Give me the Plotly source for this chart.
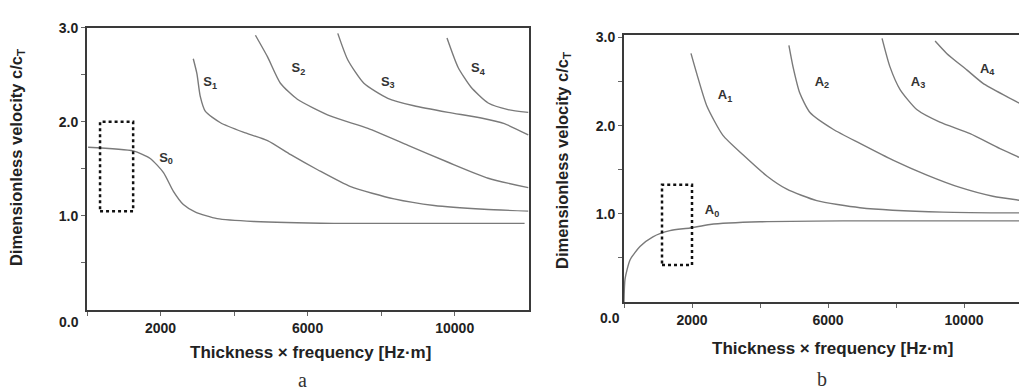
import plotly.graph_objects as go

# ---- Data ----
# Panel a: symmetric modes
s0_x = [30, 1260, 1720, 2080, 2350, 2620, 2950, 3540, 4540, 6720, 11900]
s0_y = [1.73, 1.69, 1.61, 1.46, 1.26, 1.12, 1.04, 0.97, 0.94, 0.92, 0.92]
s1_x = [2890, 2990, 3080, 3220, 3630, 4250, 4910, 5540, 6270, 7170, 8350, 9440, 10800, 12000]
s1_y = [2.67, 2.51, 2.27, 2.11, 1.99, 1.89, 1.80, 1.65, 1.49, 1.31, 1.18, 1.11, 1.07, 1.05]
s2_x = [4580, 4910, 5260, 5720, 6630, 7640, 8730, 9820, 10910, 12000]
s2_y = [2.92, 2.69, 2.41, 2.24, 2.06, 1.93, 1.75, 1.57, 1.40, 1.30]
s3_x = [6820, 7090, 7530, 8180, 8890, 9820, 10720, 11350, 12000]
s3_y = [2.94, 2.66, 2.41, 2.25, 2.17, 2.10, 2.04, 1.98, 1.86]
s4_x = [9790, 10090, 10440, 10910, 11450, 12000]
s4_y = [2.89, 2.58, 2.37, 2.20, 2.13, 2.10]

# Panel b: antisymmetric modes
a0_x = [0, 30, 180, 470, 850, 1350, 1940, 2530, 4000, 6440, 12100]
a0_y = [0.0, 0.26, 0.48, 0.63, 0.74, 0.81, 0.84, 0.88, 0.91, 0.92, 0.92]
a1_x = [1970, 2140, 2440, 2910, 3500, 4200, 4790, 5670, 6940, 9380, 12100]
a1_y = [2.82, 2.59, 2.22, 1.89, 1.67, 1.43, 1.28, 1.15, 1.07, 1.02, 1.01]
a2_x = [4850, 4970, 5170, 5470, 6150, 6940, 7910, 8910, 9880, 10850, 12100]
a2_y = [2.91, 2.67, 2.37, 2.15, 1.96, 1.80, 1.61, 1.44, 1.30, 1.20, 1.13]
a3_x = [7590, 7820, 8120, 8620, 9290, 10180, 11060, 12100]
a3_y = [2.99, 2.67, 2.41, 2.18, 2.04, 1.91, 1.74, 1.56]
a4_x = [9150, 9490, 10090, 10560, 11260, 12100]
a4_y = [2.96, 2.82, 2.63, 2.48, 2.33, 2.16]

# Mode labels
s_labels = ["S<sub>0</sub>", "S<sub>1</sub>", "S<sub>2</sub>", "S<sub>3</sub>", "S<sub>4</sub>"]
s_lab_x = [2150, 3350, 5750, 8180, 10630]
s_lab_y = [1.61, 2.41, 2.56, 2.42, 2.56]
a_labels = ["A<sub>0</sub>", "A<sub>1</sub>", "A<sub>2</sub>", "A<sub>3</sub>", "A<sub>4</sub>"]
a_lab_x = [2590, 2970, 5820, 8650, 10680]
a_lab_y = [1.03, 2.34, 2.49, 2.49, 2.64]

# Dotted boxes [x0, x1, y0, y1]
box_a = [355, 1255, 1.05, 2.0]
box_b = [1118, 2000, 0.42, 1.33]

x_tickvals = [0, 2000, 4000, 6000, 8000, 10000]
x_ticktext = ["", "<b>2000</b>", "", "<b>6000</b>", "", "<b>10000</b>"]
y_tickvals = [0.5, 1.0, 1.5, 2.0, 2.5, 3.0]
y_ticktext = ["", "<b>1.0</b>", "", "<b>2.0</b>", "", "<b>3.0</b>"]

W, H = 1027, 392
OFF = 8  # page body margin offset


def fx(px):
    return (px - OFF) / W


def fy(py):
    return 1 - (py - OFF) / H


LINE = dict(color="#7a7a7a", width=1.4, shape="spline", smoothing=0.6)
FONT = "Liberation Sans, Arial, sans-serif"
SERIF = "Liberation Serif, Times New Roman, serif"

fig = go.Figure()
for xs, ys in [(s0_x, s0_y), (s1_x, s1_y), (s2_x, s2_y), (s3_x, s3_y), (s4_x, s4_y)]:
    fig.add_trace(go.Scatter(x=xs, y=ys, mode="lines", line=LINE, xaxis="x", yaxis="y",
                             showlegend=False, hoverinfo="skip", cliponaxis=True))
for xs, ys in [(a0_x, a0_y), (a1_x, a1_y), (a2_x, a2_y), (a3_x, a3_y), (a4_x, a4_y)]:
    fig.add_trace(go.Scatter(x=xs, y=ys, mode="lines", line=LINE, xaxis="x2", yaxis="y2",
                             showlegend=False, hoverinfo="skip", cliponaxis=True))

fig.add_trace(go.Scatter(x=s_lab_x, y=s_lab_y, mode="text", text=["<b>%s</b>" % t for t in s_labels],
                         textfont=dict(family=FONT, size=13, color="#333"), xaxis="x", yaxis="y",
                         showlegend=False, hoverinfo="skip"))
fig.add_trace(go.Scatter(x=a_lab_x, y=a_lab_y, mode="text", text=["<b>%s</b>" % t for t in a_labels],
                         textfont=dict(family=FONT, size=13, color="#333"), xaxis="x2", yaxis="y2",
                         showlegend=False, hoverinfo="skip"))

for (bx, xr, yr) in [(box_a, "x", "y"), (box_b, "x2", "y2")]:
    fig.add_shape(type="rect", xref=xr, yref=yr, x0=bx[0], x1=bx[1], y0=bx[2], y1=bx[3],
                  line=dict(color="#111", width=2.5, dash="dot"))

axis_common = dict(showgrid=False, zeroline=False, showline=True, linecolor="#3a3a3a", linewidth=2,
                   ticks="outside", ticklen=4, tickcolor="#666", tickwidth=1,
                   tickfont=dict(family=FONT, size=14, color="#222"))

fig.update_layout(
    width=W, height=H, margin=dict(l=0, r=0, t=0, b=0),
    paper_bgcolor="white", plot_bgcolor="white",
    xaxis=dict(domain=[fx(87), fx(529)], range=[0, 12020], tickvals=x_tickvals, ticktext=x_ticktext,
               anchor="y", mirror=True, **axis_common),
    yaxis=dict(domain=[fy(308), fy(20)], range=[0, 3.0], tickvals=y_tickvals, ticktext=y_ticktext,
               anchor="x", mirror=True, **axis_common),
    xaxis2=dict(domain=[fx(624), 1.0], range=[0, (W + OFF - 624) / 0.034], tickvals=x_tickvals,
                ticktext=x_ticktext, anchor="y2", mirror=True, **axis_common),
    yaxis2=dict(domain=[fy(300), fy(27)], range=[0, 3.033], tickvals=y_tickvals, ticktext=y_ticktext,
                anchor="x2", mirror=False, **axis_common),
)


def ann(text, px, py, size, family=FONT, angle=0, color="#222"):
    fig.add_annotation(text=text, x=fx(px), y=fy(py), xref="paper", yref="paper",
                       showarrow=False, textangle=angle, xanchor="center", yanchor="middle",
                       font=dict(family=family, size=size, color=color))


ytitle = "<b>Dimensionless velocity c/c<sub>T</sub></b>"
xtitle = "<b>Thickness × frequency [Hz·m]</b>"
ann(ytitle, 17, 153, 16.5, angle=-90)
ann(ytitle, 563, 156, 16.5, angle=-90)
ann(xtitle, 310, 352, 17)
ann(xtitle, 832, 347, 17)
ann("<b>0.0</b>", 69, 320, 14)
ann("<b>0.0</b>", 610, 316, 14)
ann("a", 302, 380, 20, family=SERIF, color="#333")
ann("b", 822, 379, 20, family=SERIF, color="#333")

fig.write_html("out.html")
